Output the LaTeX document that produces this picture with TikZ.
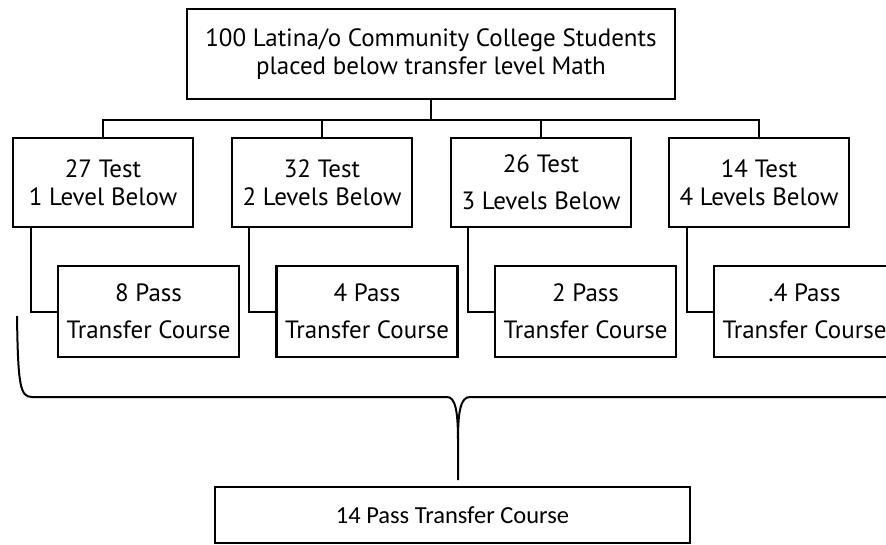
\documentclass[tikz,border=0pt]{standalone}
\usepackage{fontspec}
\setmainfont{PT Sans}
\newfontfamily\calfont{Carlito}
\usepackage{tikz}
\usetikzlibrary{calc}

\begin{document}
\begin{tikzpicture}[x=1pt,y=-1pt,
    box/.style={draw, line width=2.2pt, align=center, inner sep=0pt, font=\fontsize{25}{28}\selectfont},
    testbox/.style={box, minimum width=180pt, minimum height=89pt},
    passbox/.style={box, minimum width=181pt, minimum height=91pt},
    link/.style={line width=2pt}]
    \useasboundingbox (0,0) rectangle (886,544);
    \clip (0,0) rectangle (886,544);

    \node[box, minimum width=488pt, minimum height=90pt] (students) at (431,54) {100 Latina/o Community College Students\\placed below transfer level Math};

    \node[testbox] (test1) at (103,182.5) {27 Test\\1 Level Below};
    \node[testbox] (test2) at (322,182.5) {32 Test\\2 Levels Below};
    \node[testbox] (test3) at (541,182.5) {26 Test\\[9pt]3 Levels Below};
    \node[testbox] (test4) at (759,182.5) {14 Test\\4 Levels Below};

    \node[passbox] (pass1) at (148.5,311.5) {8 Pass\\[9pt]Transfer Course};
    \node[passbox] (pass2) at (367,311.5) {4 Pass\\[9pt]Transfer Course};
    \node[passbox] (pass3) at (585.5,311.5) {2 Pass\\[9pt]Transfer Course};
    \node[passbox] (pass4) at (804.5,311.5) {.4 Pass\\[9pt]Transfer Course};

    \node[box, minimum width=475pt, minimum height=56pt, font=\calfont\fontsize{24.5}{28}\selectfont] (total) at (452.5,515) {14 Pass Transfer Course};

    \coordinate (bus) at ($(students.south)+(0,20)$);
    \draw[link] (students.south) -- (bus);
    \draw[link] (test1.north) |- (bus) -| (test4.north);
    \draw[link] (test2.north) |- (bus);
    \draw[link] (test3.north) |- (bus);

    \draw[link] ($(test1.south west)+(19,0)$) |- (pass1.west);
    \draw[link] ($(test2.south west)+(18,0)$) |- (pass2.west);
    \draw[link] ($(test3.south west)+(18,0)$) |- (pass3.west);
    \draw[link] ($(test4.south west)+(19,0)$) |- (pass4.west);

    \coordinate (tip) at (458,480);
    \draw[link] (17,316) .. controls (18,385) and (20,397) .. (32,397) -- (447,397)
        .. controls (455,397) and (458,410) .. (458,440) -- (tip);
    \draw[link] (458,440) .. controls (458,410) and (461,397) .. (470,397) -- (886,397);
\end{tikzpicture}
\end{document}
